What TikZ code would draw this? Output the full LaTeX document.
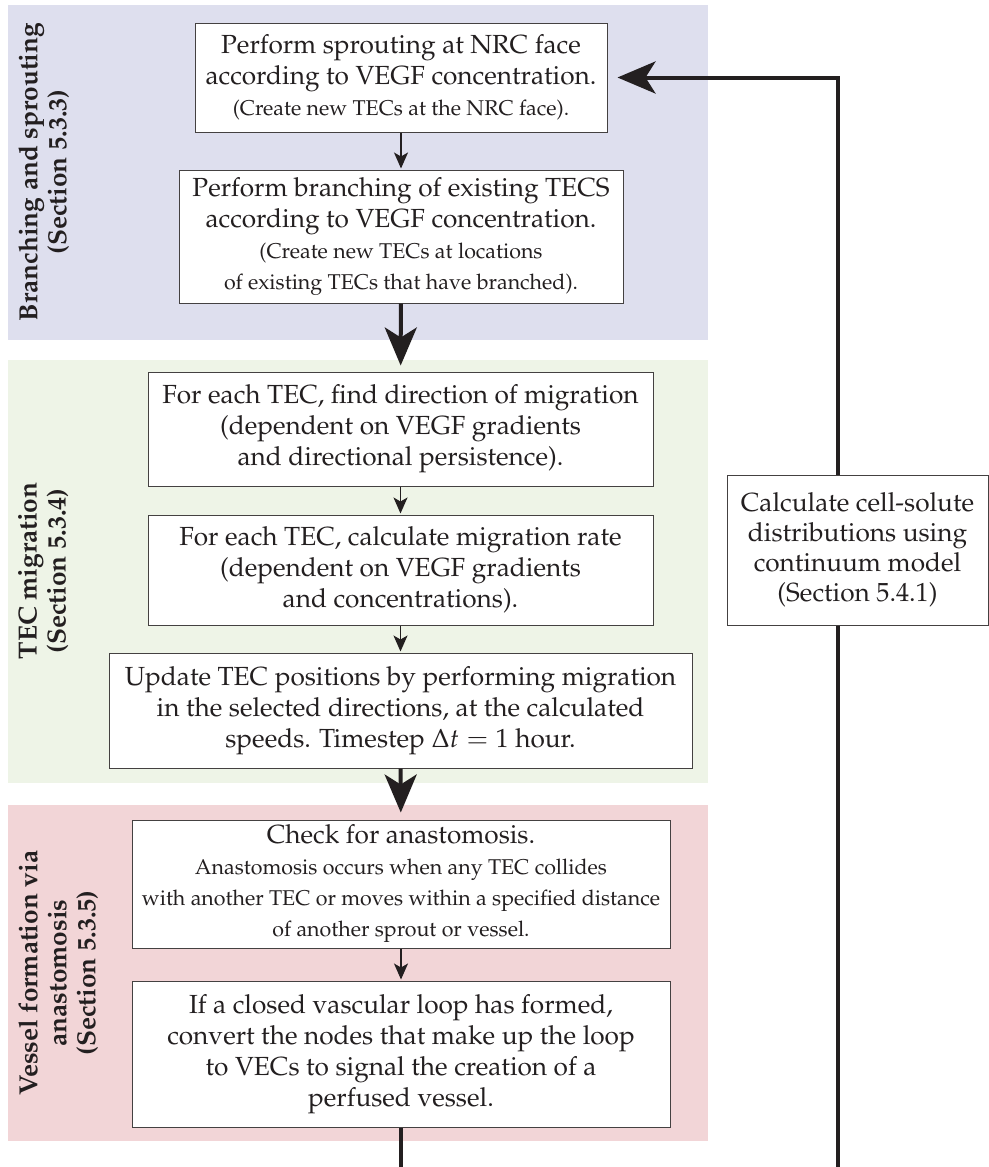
\documentclass[tikz,border=0pt]{standalone}
\usepackage[T1]{fontenc}
\usepackage{mathpazo}
\usepackage{tikz}
\usetikzlibrary{positioning, arrows.meta}

\definecolor{branchbg}{HTML}{DEDFEE}
\definecolor{migratebg}{HTML}{EEF4E7}
\definecolor{vesselbg}{HTML}{F2D5D7}
\definecolor{ink}{HTML}{231F20}

\newcommand{\note}{\fontsize{10.7}{12.8}\selectfont}

\tikzset{
  stage/.style={draw=ink!85, line width=0.5pt, fill=white, align=center, inner sep=2pt,
    text=ink, font=\fontsize{13.1}{15.5}\selectfont},
  phase/.style={rotate=90, anchor=north, align=center, inner sep=0pt, text=ink,
    font=\fontsize{13.1}{14.5}\selectfont\bfseries},
  flow/.style={draw=ink, line width=0.75pt, -{Stealth[length=8pt, width=7pt, inset=2pt]}},
  bigflow/.style={draw=ink, line width=2pt, -{Stealth[length=19pt, width=16pt, inset=5pt]}},
}

\begin{document}
\begin{tikzpicture}[x=0.5pt, y=-0.5pt]
      \useasboundingbox (0,0) rectangle (989,1167);

      % coloured bands
      \fill[branchbg] (8,5) rectangle (708,340);
      \fill[migratebg] (8,360) rectangle (708,783);
      \fill[vesselbg] (8,805) rectangle (708,1141);

      \node[phase] (lblbranch) at (18,172) {Branching and sprouting\\(Section 5.3.3)};
      \node[phase] (lblmigrate) at (18,571) {TEC migration\\(Section 5.3.4)};
      \node[phase] (lblvessel) at (18,973) {Vessel formation via\\anastomosis\\(Section 5.3.5)};

      % Branching and sprouting
      \node[stage, minimum width=206pt, minimum height=54.5pt] (sprout) at (401,77.5)
        {Perform sprouting at NRC face\\according to VEGF concentration.\\\note (Create new TECs at the NRC face).};
      \node[stage, minimum width=222pt, minimum height=66.5pt] (branch) at (401,236.5)
        {Perform branching of existing TECS\\according to VEGF concentration.\\\note (Create new TECs at locations\\\note of existing TECs that have branched).};

      % TEC migration
      \node[stage, minimum width=252.5pt, minimum height=57pt] (direction) at (400.5,429)
        {For each TEC, find direction of migration\\(dependent on VEGF gradients\\and directional persistence).};
      \node[stage, minimum width=252.5pt, minimum height=55pt] (rate) at (400.5,570)
        {For each TEC, calculate migration rate\\(dependent on VEGF gradients\\and concentrations).};
      \node[stage, minimum width=291.5pt, minimum height=57.5pt] (update) at (400.5,710.5)
        {Update TEC positions by performing migration\\in the selected directions, at the calculated\\speeds. Timestep $\Delta t = 1$ hour.};

      % Vessel formation via anastomosis
      \node[stage, minimum width=269pt, minimum height=64pt] (check) at (401,884)
        {Check for anastomosis.\\\note Anastomosis occurs when any TEC collides\\\note with another TEC or moves within a specified distance\\\note of another sprout or vessel.};
      \node[stage, minimum width=269pt, minimum height=73pt] (closing) at (401,1054)
        {If a closed vascular loop has formed,\\convert the nodes that make up the loop\\to VECs to signal the creation of a\\perfused vessel.};

      % continuum model
      \node[stage, minimum width=130.5pt, minimum height=75pt, font=\fontsize{13.1}{15}\selectfont] (calc) at (857.5,550)
        {Calculate cell-solute\\distributions using\\continuum model\\(Section 5.4.1)};

      \coordinate (up) at (838,77.5);
      \coordinate (down) at (838,1167);
      \coordinate (exit) at (401,1167);

      \draw[flow, shorten >=0.5pt] (sprout) -- (branch);
      \draw[bigflow, shorten >=3pt] (branch) -- (direction);
      \draw[flow, shorten >=0.5pt] (direction) -- (rate);
      \draw[flow, shorten >=0.5pt] (rate) -- (update);
      \draw[bigflow, shorten >=3.5pt] (update) -- (check);
      \draw[flow, shorten >=0.5pt] (check) -- (closing);

      \draw[draw=ink, line width=2pt] (closing.south) -- (exit);
      \draw[draw=ink, line width=2pt] (calc.south -| up) -- (down);
      \draw[bigflow, shorten >=5pt] (calc.north -| up) -- (up) -- (sprout.east);
    \end{tikzpicture}
\end{document}
